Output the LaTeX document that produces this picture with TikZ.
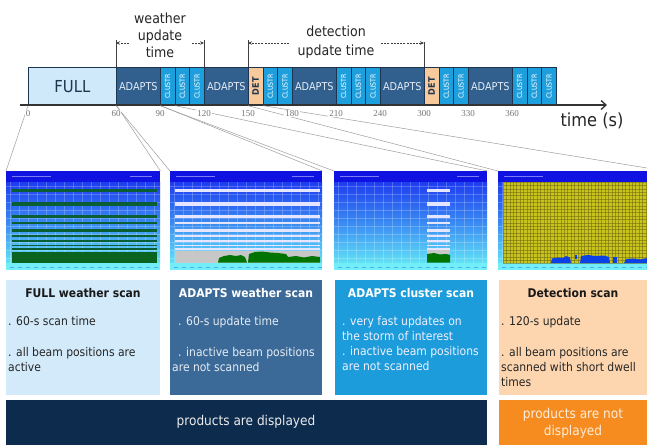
\documentclass[tikz,border=0pt]{standalone}
\usepackage{fontspec}
\setmainfont{DejaVu Sans Condensed}
\newfontfamily\tickfont{Liberation Serif}
\usetikzlibrary{arrows.meta}
\definecolor{navy}{HTML}{1E3550}
\definecolor{fullc}{HTML}{CFE9FA}
\definecolor{adc}{HTML}{31608F}
\definecolor{adtext}{HTML}{E4ECF4}
\definecolor{clc}{HTML}{1E9FDD}
\definecolor{detc}{HTML}{F8C99A}
\definecolor{box1}{HTML}{D2EAFA}
\definecolor{box2}{HTML}{3C6A98}
\definecolor{box3}{HTML}{1C9CDB}
\definecolor{box4}{HTML}{FDD6B0}
\definecolor{bar1}{HTML}{0C2B4D}
\definecolor{bar2}{HTML}{F68C1F}
\definecolor{scrT}{HTML}{1012E2}
\definecolor{scrA}{HTML}{1E3CF0}
\definecolor{scrM}{HTML}{3A8AF2}
\definecolor{scrB}{HTML}{62E2F6}
\definecolor{scrS}{HTML}{72EEF8}
\definecolor{grn}{HTML}{0A5E34}
\definecolor{grnB}{HTML}{0A6420}
\definecolor{yel}{HTML}{C9C41C}
\definecolor{yelg}{HTML}{6E6A10}
\newcommand\scrbase[2]{%
  \fill[scrT] (#1,171) rectangle (#2,182);
  \shade[top color=scrA,bottom color=scrB,middle color=scrM] (#1,182) rectangle (#2,263);
  \fill[scrS] (#1,263) rectangle (#2,270);
  \begin{scope}
    \clip (#1,182) rectangle (#2,263);
    \foreach \g in {0,9,...,160} \draw[white,opacity=0.22,line width=0.4pt] (#1+\g+4,182) -- (#1+\g+4,263);
    \foreach \g in {0,8,...,80} \draw[white,opacity=0.22,line width=0.4pt] (#1,182+\g+4) -- (#2,182+\g+4);
  \end{scope}
  \draw[white,opacity=0.45,line width=0.8pt] (#1+6,176.5) -- (#1+45,176.5);
  \draw[white,opacity=0.45,line width=0.8pt] (#2-30,176.5) -- (#2-8,176.5);
  \begin{scope}
    \clip (#1,263) rectangle (#2,270);
    \foreach \g in {4,12,...,160} \draw[scrT,opacity=0.3,line width=0.6pt] (#1+\g,267) -- (#1+\g+4,267);
  \end{scope}
}
\newcommand\stripes[3]{%
  \foreach \sy/\sw in {190.5/3.2,204/3.2,216/3,223/2.8,230.5/2.6,236/2.3,241/2.1,245.5/1.9,249/1.6}
    \draw[#3,line width=\sw pt] (#1,\sy) -- (#2,\sy);
}
\begin{document}
\begin{tikzpicture}[x=1pt,y=-1pt,
  blk/.style={draw=navy,line width=0.7pt,inner sep=0pt,anchor=north west,minimum height=38pt},
  adapts/.style={blk,fill=adc,minimum width=44pt,text=adtext,font=\fontsize{10.8}{10.8}\selectfont},
  clus/.style={blk,fill=clc,minimum width=14.67pt,text=white,font=\fontsize{7}{7}\selectfont},
  det/.style={blk,fill=detc,minimum width=14.67pt,text=navy,font=\bfseries\fontsize{9}{9}\selectfont},
  tick/.style={font=\tickfont\fontsize{9}{9}\selectfont,text=black!55,fill=white,inner sep=0.8pt},
  dimline/.style={draw=black!75,line width=0.6pt},
  dimarrow/.style={draw=black!75,line width=0.7pt,dash pattern=on 2pt off 1.2pt,-{Stealth[length=4pt,width=3.5pt]}},
  conn/.style={draw=black!38,line width=0.5pt},
  panel/.style={inner sep=0pt,anchor=north west,minimum height=99pt},
  info/.style={inner sep=0pt,anchor=north west,minimum height=115pt},
  barbox/.style={inner sep=0pt,anchor=north west,minimum height=45pt},
  ttl/.style={font=\bfseries\fontsize{12}{14}\selectfont,anchor=base,inner sep=0pt},
  body/.style={font=\fontsize{12}{15}\selectfont,anchor=base west,inner sep=0pt},
  big/.style={font=\fontsize{14}{17}\selectfont,text=black!85,align=center,inner sep=0pt},
]
\fill[white] (0,0) rectangle (647,445);
\useasboundingbox (0,0) rectangle (647,445);

% ---------- timeline blocks ----------
\node[blk,fill=fullc,minimum width=88pt,text=navy,font=\fontsize{16.5}{16.5}\selectfont] (full) at (28,67) {FULL};
\node[adapts] (a1) at (116,67) {ADAPTS};
\node[clus] (c1) at (160,67) {\rotatebox{90}{CLUSTR}};
\node[clus] (c2) at (174.67,67) {\rotatebox{90}{CLUSTR}};
\node[clus] (c3) at (189.33,67) {\rotatebox{90}{CLUSTR}};
\node[adapts] (a2) at (204,67) {ADAPTS};
\node[det] (d1) at (248,67) {\rotatebox{90}{DET}};
\node[clus] (c4) at (262.67,67) {\rotatebox{90}{CLUSTR}};
\node[clus] (c5) at (277.33,67) {\rotatebox{90}{CLUSTR}};
\node[adapts] (a3) at (292,67) {ADAPTS};
\node[clus] (c6) at (336,67) {\rotatebox{90}{CLUSTR}};
\node[clus] (c7) at (350.67,67) {\rotatebox{90}{CLUSTR}};
\node[clus] (c8) at (365.33,67) {\rotatebox{90}{CLUSTR}};
\node[adapts] (a4) at (380,67) {ADAPTS};
\node[det] (d2) at (424,67) {\rotatebox{90}{DET}};
\node[clus] (c9) at (438.67,67) {\rotatebox{90}{CLUSTR}};
\node[clus] (c10) at (453.33,67) {\rotatebox{90}{CLUSTR}};
\node[adapts] (a5) at (468,67) {ADAPTS};
\node[clus] (c11) at (512,67) {\rotatebox{90}{CLUSTR}};
\node[clus] (c12) at (526.67,67) {\rotatebox{90}{CLUSTR}};
\node[clus] (c13) at (541.33,67) {\rotatebox{90}{CLUSTR}};

% ---------- axis ----------
\coordinate (ax0) at (20,105);
\coordinate (ax1) at (607,105);
\draw[line width=1.3pt,draw=black!80,-{Straight Barb[length=5pt,width=9pt]}] (ax0) -- (ax1);
\node[font=\fontsize{18}{18}\selectfont,text=black!85,inner sep=0pt] (tlab) at (592,121) {time (s)};

% ---------- dimension markers ----------
\coordinate (w1) at (116,40); \coordinate (w2) at (204,40);
\coordinate (e1) at (248,40); \coordinate (e2) at (424,42);
\draw[dimline] (w1) -- (a1.north west);
\draw[dimline] (w2) -- (a2.north west);
\draw[dimline] (e1) -- (d1.north west);
\draw[dimline] (e2) -- (d2.north west);
\coordinate (wa1) at (129,43); \coordinate (wb1) at (116,43);
\coordinate (wa2) at (192,43); \coordinate (wb2) at (204,43);
\coordinate (ea1) at (289,43); \coordinate (eb1) at (248,43);
\coordinate (ea2) at (381,43); \coordinate (eb2) at (424,43);
\draw[dimarrow] (wa1) -- (wb1);
\draw[dimarrow] (wa2) -- (wb2);
\draw[dimarrow] (ea1) -- (eb1);
\draw[dimarrow] (ea2) -- (eb2);
\node[big] (wut) at (160,35) {weather\\update\\time};
\node[big,font=\fontsize{14}{19}\selectfont] (dut) at (336,42.5) {detection\\update time};

% ---------- screens ----------
\scrbase{6}{160}
\stripes{12}{157}{grn}
\fill[grnB] (12,251.5) rectangle (157,262.5);
\node[panel,minimum width=154pt] (p1) at (6,171) {};

\scrbase{170}{322}
\stripes{175}{320}{white!90!blue}
\fill[black!22] (175,251) rectangle (320,262.5);
\fill[green!45!black] (218,262.5) -- (219,258) -- (224,256) -- (230,255) -- (236,256) -- (241,255) -- (245,257) -- (247,262.5) -- cycle;
\fill[green!45!black] (248,262.5) -- (249,254) -- (255,252) -- (262,251.5) -- (270,252.5) -- (278,253) -- (286,254) -- (288,257) -- (296,256) -- (304,257.5) -- (312,256) -- (320,257) -- (320,262.5) -- cycle;
\node[panel,minimum width=152pt] (p2) at (170,171) {};

\scrbase{334}{487}
\stripes{427}{450}{white!90!blue}
\fill[black!22] (427,250) rectangle (450,254);
\fill[green!45!black] (427,262.5) -- (427,254) -- (434,253) -- (440,254.5) -- (446,254) -- (450,255) -- (450,262.5) -- cycle;
\node[panel,minimum width=153pt] (p3) at (334,171) {};

\scrbase{498}{680}
\fill[yel] (503,182) rectangle (647,263);
\begin{scope}
  \clip (503,182) rectangle (647,263);
  \foreach \g in {0,3.4,...,150} \draw[yelg,opacity=0.55,line width=0.35pt] (503+\g,182) -- (503+\g,263);
  \foreach \g in {0,3.4,...,85} \draw[yelg,opacity=0.55,line width=0.35pt] (503,182+\g) -- (647,182+\g);
  \fill[scrT!80!cyan] (551,263) -- (552,258.5) -- (558,257.5) -- (563,258) -- (566,256) -- (570,257.5) -- (571,263) -- cycle;
  \fill[scrT!80!cyan] (575,259) rectangle (577,255);
  \fill[scrT!80!cyan] (580,263) -- (581,256) -- (588,255) -- (596,256) -- (604,255.5) -- (609,257) -- (610,263) -- cycle;
  \fill[scrT!80!cyan] (613,263) -- (613,257) -- (617,257) -- (617,263) -- cycle;
  \fill[scrT!80!cyan] (624,263) -- (626,259) -- (634,258.5) -- (640,259.5) -- (647,258) -- (647,263) -- cycle;
\end{scope}
\node[panel,minimum width=182pt] (p4) at (498,171) {};
\coordinate (p4r) at (647,168);

% ---------- connectors ----------
\draw[conn] (full.south west) -- (p1.north west);
\draw[conn] (full.south east) -- (p1.north east);
\draw[conn] (a1.south west) -- (p2.north west);
\draw[conn] (a1.south east) -- (p2.north east);
\draw[conn] (c1.south west) -- (p3.north west);
\draw[conn] (c1.south east) -- (p3.north east);
\draw[conn] (d1.south west) -- (p4.north west);
\draw[conn] (d1.south east) -- (p4r);

% ---------- tick labels ----------
\foreach \tx/\tl in {28/0,116/60,160/90,204/120,248/150,292/180,336/210,380/240,424/300,468/330,512/360}
  \node[tick] (tk\tl) at (\tx,113.5) {\tl};

% ---------- info boxes ----------
\node[info,fill=box1,minimum width=154pt] (b1) at (6,280) {};
\node[info,fill=box2,minimum width=152pt] (b2) at (170,280) {};
\node[info,fill=box3,minimum width=152pt] (b3) at (335,280) {};
\node[info,fill=box4,minimum width=148pt] (b4) at (499,280) {};

\node[ttl,text=black!90] (t1) at (83,297.5) {FULL weather scan};
\node[body,text=black!85] (x1a) at (8,325) {. 60-s scan time};
\node[body,text=black!85] (x1b) at (8,356) {. all beam positions are};
\node[body,text=black!85] (x1c) at (8,371) {active};

\node[ttl,text=white] (t2) at (246,297.5) {ADAPTS weather scan};
\node[body,text=adtext] (x2a) at (178,325) {. 60-s update time};
\node[body,text=adtext] (x2b) at (178,356) {. inactive beam positions};
\node[body,text=adtext] (x2c) at (172,371) {are not scanned};

\node[ttl,text=white] (t3) at (411,297.5) {ADAPTS cluster scan};
\node[body,text=white!94!blue] (x3a) at (342,325) {. very fast updates on};
\node[body,text=white!94!blue] (x3b) at (342,340) {the storm of interest};
\node[body,text=white!94!blue] (x3c) at (342,355) {. inactive beam positions};
\node[body,text=white!94!blue] (x3d) at (342,370) {are not scanned};

\node[ttl,text=black!90] (t4) at (573,297.5) {Detection scan};
\node[body,text=black!85] (x4a) at (501,325) {. 120-s update};
\node[body,text=black!85] (x4b) at (501,356) {. all beam positions are};
\node[body,text=black!85] (x4c) at (501,371) {scanned with short dwell};
\node[body,text=black!85] (x4d) at (501,386) {times};

% ---------- bottom bars ----------
\node[barbox,fill=bar1,minimum width=481pt] (db) at (6,400) {};
\node[barbox,fill=bar2,minimum width=148pt] (ob) at (499,400) {};
\node[font=\fontsize{13.5}{17}\selectfont,text=black!8,inner sep=0pt] (dbt) at (246,422) {products are displayed};
\node[font=\fontsize{13.5}{17}\selectfont,text=orange!15,align=center,inner sep=0pt] (obt) at (573,423) {products are not\\displayed};
\end{tikzpicture}
\end{document}
